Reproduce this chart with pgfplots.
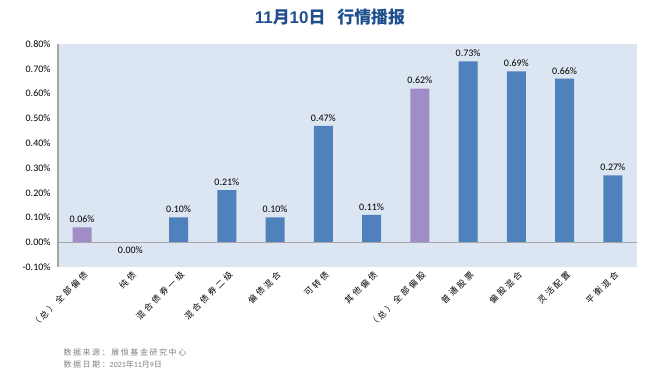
\documentclass[border=0pt]{standalone}
\usepackage{pgfplots}
\pgfplotsset{compat=1.18}
\usepackage{fontspec}
\setmainfont{Carlito}
\newfontfamily\cjk{Noto Sans CJK SC}
\newfontfamily\cjkspaced[LetterSpace=30]{Noto Sans CJK SC}
\newfontfamily\cjknote[LetterSpace=20]{Noto Sans CJK SC}
\newfontfamily\titlelat{Liberation Sans}
\definecolor{bgblue}{HTML}{DCE6F2}
\definecolor{barblue}{HTML}{4F81BD}
\definecolor{barpurple}{HTML}{A08CC6}
\definecolor{titleblue}{HTML}{1F4E8C}
\definecolor{axgray}{HTML}{A6A6A6}
\definecolor{notegray}{HTML}{7F7F7F}
\begin{document}
\begin{tikzpicture}[x=1bp,y=1bp]
\path (0,0) rectangle (664,379);
\node[text=titleblue, font=\bfseries\fontsize{17}{19}\selectfont] at (330,362) {{\titlelat 11}{\cjk 月}{\titlelat 10}{\cjk 日}\hspace{0.7em}{\cjk 行情播报}};
\begin{axis}[
  at={(58bp,112bp)}, anchor=south west,
  scale only axis, width=579bp, height=223bp,
  xmin=-0.5, xmax=11.5, ymin=-0.1, ymax=0.8,
  axis background/.style={fill=bgblue},
  axis line style={draw=none},
  major tick length=0pt,
  /pgf/number format/assume math mode=true,
  ytick={-0.1,0,0.1,0.2,0.3,0.4,0.5,0.6,0.7,0.8},
  yticklabels={-0.10\%,0.00\%,0.10\%,0.20\%,0.30\%,0.40\%,0.50\%,0.60\%,0.70\%,0.80\%},
  yticklabel style={font=\fontsize{10}{12}\selectfont, xshift=-4bp},
  xtick={0,...,11},
  xticklabels={（总）全部偏债,纯债,混合债券一级,混合债券二级,偏债混合,可转债,其他偏债,（总）全部偏股,普通股票,偏股混合,灵活配置,平衡混合},
  xticklabel style={font=\cjkspaced\fontsize{8.5}{10}\selectfont, rotate=45, anchor=east, yshift=-7bp, xshift=2bp},
  ybar, bar width=19bp, bar shift=0pt,
  nodes near coords={\pgfmathprintnumber[fixed,zerofill,precision=2]{\pgfplotspointmeta}\%},
  nodes near coords style={font=\fontsize{10}{12}\selectfont, text=black, yshift=1bp},
  point meta=y,
  clip=false,
]
\addplot[fill=barpurple, draw=none] coordinates {(0,0.06) (7,0.62)};
\addplot[fill=barblue, draw=none] coordinates {(2,0.10) (3,0.21) (4,0.10) (5,0.47) (6,0.11) (8,0.73) (9,0.69) (10,0.66) (11,0.27)};
\addplot[fill=barblue, draw=none, nodes near coords style={anchor=north, yshift=-2bp}] coordinates {(1,0.0)};
\draw[axgray, line width=1bp] (axis cs:-0.5,0) -- (axis cs:11.5,0);
\draw[axgray, line width=1.5bp] (axis cs:-0.5,-0.1) -- (axis cs:-0.5,0.8);
\end{axis}
\node[anchor=west, text=notegray, font=\cjknote\fontsize{8}{9}\selectfont] at (60,27) {数据来源：展恒基金研究中心};
\node[anchor=west, text=notegray, font=\cjknote\fontsize{8}{9}\selectfont] at (60,15) {数据日期：{\rmfamily 2021}年{\rmfamily 11}月{\rmfamily 9}日};
\end{tikzpicture}
\end{document}
